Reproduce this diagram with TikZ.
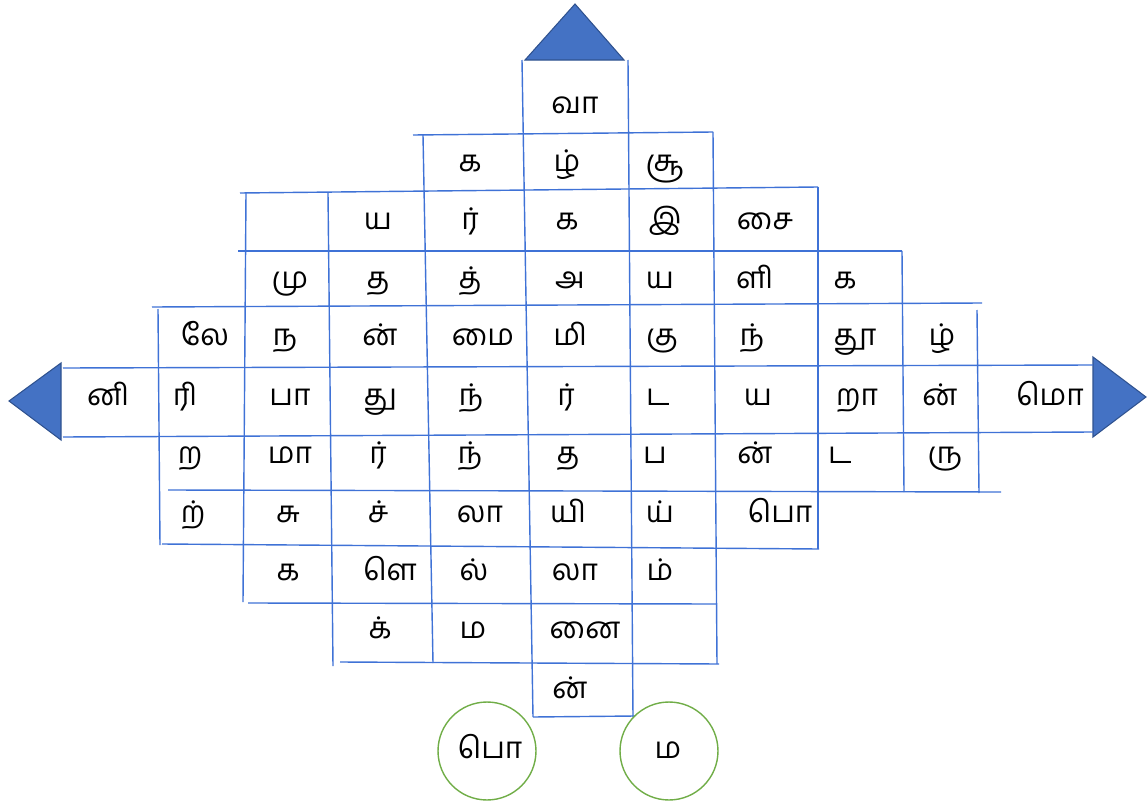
\documentclass[tikz,border=0pt]{standalone}
\usepackage{fontspec}
\usepackage{tikz}
\newfontfamily\tamil[Script=Tamil]{Hind Madurai}
\definecolor{gridblue}{HTML}{3F72D6}
\definecolor{arrowblue}{HTML}{4472C4}
\definecolor{arrowedge}{HTML}{2F528F}
\definecolor{ringgreen}{HTML}{70AD47}

\begin{document}
\begin{tikzpicture}[
  x=0.02cm, y=-0.02cm,
  gridline/.style={draw=gridblue, line width=0.8pt},
  arrowhead/.style={fill=arrowblue, draw=arrowedge, line width=0.6pt},
  letternode/.style={anchor=base, inner sep=0pt, font=\tamil\fontsize{17}{20}\selectfont},
  ringnode/.style={circle, draw=ringgreen, line width=0.8pt, minimum size=1.96cm, inner sep=0pt}
  ]
  \useasboundingbox (0,0) rectangle (1147,808);

  % Arrow heads
  \draw[arrowhead] (525,60) -- (575,4) -- (624,60) -- cycle;
  \draw[arrowhead] (61,363) -- (9,401) -- (61,440) -- cycle;
  \draw[arrowhead] (1093,357) -- (1146,397) -- (1093,437) -- cycle;

  % Grid lines (rows)
  \draw[gridline] (413,135) -- (713,132);
  \draw[gridline] (240,193) -- (818,187);
  \draw[gridline] (238,251) -- (902,251);
  \draw[gridline] (152,307) -- (982,303);
  \draw[gridline] (63,368) -- (1093,365);
  \draw[gridline] (63,437) -- (1093,432);
  \draw[gridline] (168,490) -- (1001,492);
  \draw[gridline] (162,544) -- (819,549);
  \draw[gridline] (248,603) -- (716,604);
  \draw[gridline] (340,662) -- (719,664);
  \draw[gridline] (533,717) -- (635,716);

  % Grid lines (columns)
  \draw[gridline] (158,309) -- (160,545);
  \draw[gridline] (246,193) -- (243,602);
  \draw[gridline] (328,193) -- (333,666);
  \draw[gridline] (423,135) -- (433,663);
  \draw[gridline] (522,60) -- (533,717);
  \draw[gridline] (628,60) -- (633,717);
  \draw[gridline] (713,132) -- (717,664);
  \draw[gridline] (818,187) -- (818,549);
  \draw[gridline] (902,251) -- (904,492);
  \draw[gridline] (977,310) -- (979,493);

  % Letters, row 1 to row 4
  \node[letternode] (cell16) at (575,113) {வா};

  \node[letternode] (cell25) at (470,171) {க};
  \node[letternode] (cell26) at (567,171) {ழ்};
  \node[letternode] (cell27) at (665,171) {சூ};

  \node[letternode] (cell34) at (378,229) {ய};
  \node[letternode] (cell35) at (470,229) {ர்};
  \node[letternode] (cell36) at (567,229) {க};
  \node[letternode] (cell37) at (665,229) {இ};
  \node[letternode] (cell38) at (765,229) {சை};

  \node[letternode] (cell43) at (290,288) {மு};
  \node[letternode] (cell44) at (378,288) {த};
  \node[letternode] (cell45) at (470,288) {த்};
  \node[letternode] (cell46) at (570,288) {அ};
  \node[letternode] (cell47) at (660,288) {ய};
  \node[letternode] (cell48) at (755,288) {ளி};
  \node[letternode] (cell49) at (845,288) {க};

  % Letters, row 5 to row 7
  \node[letternode] (cell52) at (205,345) {லே};
  \node[letternode] (cell53) at (285,345) {ந};
  \node[letternode] (cell54) at (380,345) {ன்};
  \node[letternode] (cell55) at (483,345) {மை};
  \node[letternode] (cell56) at (570,345) {மி};
  \node[letternode] (cell57) at (662,345) {கு};
  \node[letternode] (cell58) at (752,345) {ந்};
  \node[letternode] (cell59) at (855,345) {தூ};
  \node[letternode] (cell510) at (942,345) {ழ்};

  \node[letternode] (cell61) at (108,405) {னி};
  \node[letternode] (cell62) at (185,405) {ரி};
  \node[letternode] (cell63) at (290,405) {பா};
  \node[letternode] (cell64) at (380,405) {து};
  \node[letternode] (cell65) at (471,405) {ந்};
  \node[letternode] (cell66) at (566,405) {ர்};
  \node[letternode] (cell67) at (658,405) {ட};
  \node[letternode] (cell68) at (758,405) {ய};
  \node[letternode] (cell69) at (857,405) {றா};
  \node[letternode] (cell610) at (940,405) {ன்};
  \node[letternode] (cell611) at (1050,405) {மொ};

  \node[letternode] (cell72) at (190,463) {ற};
  \node[letternode] (cell73) at (290,463) {மா};
  \node[letternode] (cell74) at (378,463) {ர்};
  \node[letternode] (cell75) at (470,463) {ந்};
  \node[letternode] (cell76) at (568,463) {த};
  \node[letternode] (cell77) at (655,463) {ப};
  \node[letternode] (cell78) at (755,463) {ன்};
  \node[letternode] (cell79) at (840,463) {ட};
  \node[letternode] (cell710) at (945,463) {ரு};

  % Letters, row 8 to row 11
  \node[letternode] (cell82) at (193,522) {ற்};
  \node[letternode] (cell83) at (288,522) {சு};
  \node[letternode] (cell84) at (378,522) {ச்};
  \node[letternode] (cell85) at (480,522) {லா};
  \node[letternode] (cell86) at (568,522) {யி};
  \node[letternode] (cell87) at (660,522) {ய்};
  \node[letternode] (cell88) at (780,522) {பொ};

  \node[letternode] (cell93) at (288,580) {க};
  \node[letternode] (cell94) at (390,580) {ளெ};
  \node[letternode] (cell95) at (474,580) {ல்};
  \node[letternode] (cell96) at (575,580) {லா};
  \node[letternode] (cell97) at (660,580) {ம்};

  \node[letternode] (cell104) at (380,638) {க்};
  \node[letternode] (cell105) at (473,638) {ம};
  \node[letternode] (cell106) at (585,638) {னை};

  \node[letternode] (cell116) at (570,698) {ன்};

  % Rings below the grid
  \node[ringnode] (ring1) at (487,751) {};
  \node[ringnode] (ring2) at (669,751) {};
  \node[letternode] (ringlabel1) at (490,758) {பொ};
  \node[letternode] (ringlabel2) at (668,758) {ம};

\end{tikzpicture}
\end{document}
